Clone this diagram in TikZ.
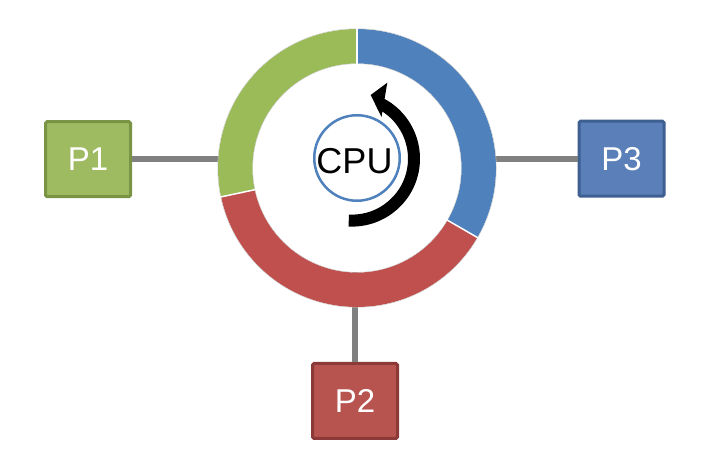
\documentclass[tikz,border=0pt]{standalone}
\usepackage{fontspec}
\setmainfont{Liberation Sans}
\definecolor{ringgreen}{HTML}{9BBB59}
\definecolor{ringblue}{HTML}{4F81BD}
\definecolor{ringred}{HTML}{C0504D}
\definecolor{pgfill}{HTML}{9FBB62}
\definecolor{pgdraw}{HTML}{7A9446}
\definecolor{prfill}{HTML}{B85450}
\definecolor{prdraw}{HTML}{8C3A37}
\definecolor{pbfill}{HTML}{5A7FB9}
\definecolor{pbdraw}{HTML}{3E5F92}
\definecolor{linkgray}{HTML}{808080}
\begin{document}
\begin{tikzpicture}[x=1pt,y=1pt,
  pbox/.style={rectangle, rounded corners=1.5pt, line width=3pt, minimum width=85pt, minimum height=75pt, inner sep=0pt, text=white, font=\fontsize{33}{33}\selectfont},
  link/.style={draw=linkgray, line width=6pt},
  sep/.style={draw=white, line width=1.5pt},
  rimline/.style={draw=black!22, line width=0.4pt}]
\useasboundingbox[fill=white] (0,0) rectangle (716,452);
\coordinate (C) at (357,284);
\node[circle, inner sep=0pt, minimum size=278pt] (ring) at (C) {};
\node[pbox, fill=pgfill, draw=pgdraw] (p1) at (88,292.8) {P1};
\node[pbox, fill=prfill, draw=prdraw] (p2) at (355,51) {P2};
\node[pbox, fill=pbfill, draw=pbdraw] (p3) at (621.5,293.3) {P3};
% connectors (drawn behind the ring)
\draw[link] (p1.east) -- (p1.east -| ring.center);
\draw[link] (p3.west) -- (p3.west -| ring.center);
\draw[link] (p2.north) -- (p2.north |- ring.center);
% inner white disc
\fill[white] (C) circle[radius=104.5pt];
% ring segments
\fill[ringblue] ([shift={(-30:139pt)}]C) arc[start angle=-30, end angle=90, radius=139pt]
  -- ([shift={(90:104.5pt)}]C) arc[start angle=90, end angle=-30, radius=104.5pt] -- cycle;
\fill[ringgreen] ([shift={(90:139pt)}]C) arc[start angle=90, end angle=192, radius=139pt]
  -- ([shift={(192:104.5pt)}]C) arc[start angle=192, end angle=90, radius=104.5pt] -- cycle;
\fill[ringred] ([shift={(192:139pt)}]C) arc[start angle=192, end angle=330, radius=139pt]
  -- ([shift={(330:104.5pt)}]C) arc[start angle=330, end angle=192, radius=104.5pt] -- cycle;
\draw[rimline] (C) circle[radius=139.3pt];
\draw[rimline] (C) circle[radius=104.3pt];
\draw[sep] ([shift={(90:103.5pt)}]C) -- ([shift={(90:140pt)}]C);
\draw[sep] ([shift={(192:103.5pt)}]C) -- ([shift={(192:140pt)}]C);
\draw[sep] ([shift={(330:103.5pt)}]C) -- ([shift={(330:140pt)}]C);
% CPU
\node[circle, draw=ringblue, line width=2.5pt, minimum size=85.5pt, inner sep=0pt] (cpu) at (357,294) {};
\node[font=\fontsize{36}{36}\selectfont, anchor=base, inner sep=0pt] (cputext) at (354.5,278) {CPU};
% rotating arrow
\coordinate (A) at (352,293.4);
\draw[line width=12pt, black] ([shift={(-93:62pt)}]A) arc[start angle=-93, end angle=63, radius=62pt];
\fill[black] (370.7,357) -- (387.3,369.3) -- (381.5,335) -- cycle;
\end{tikzpicture}
\end{document}
